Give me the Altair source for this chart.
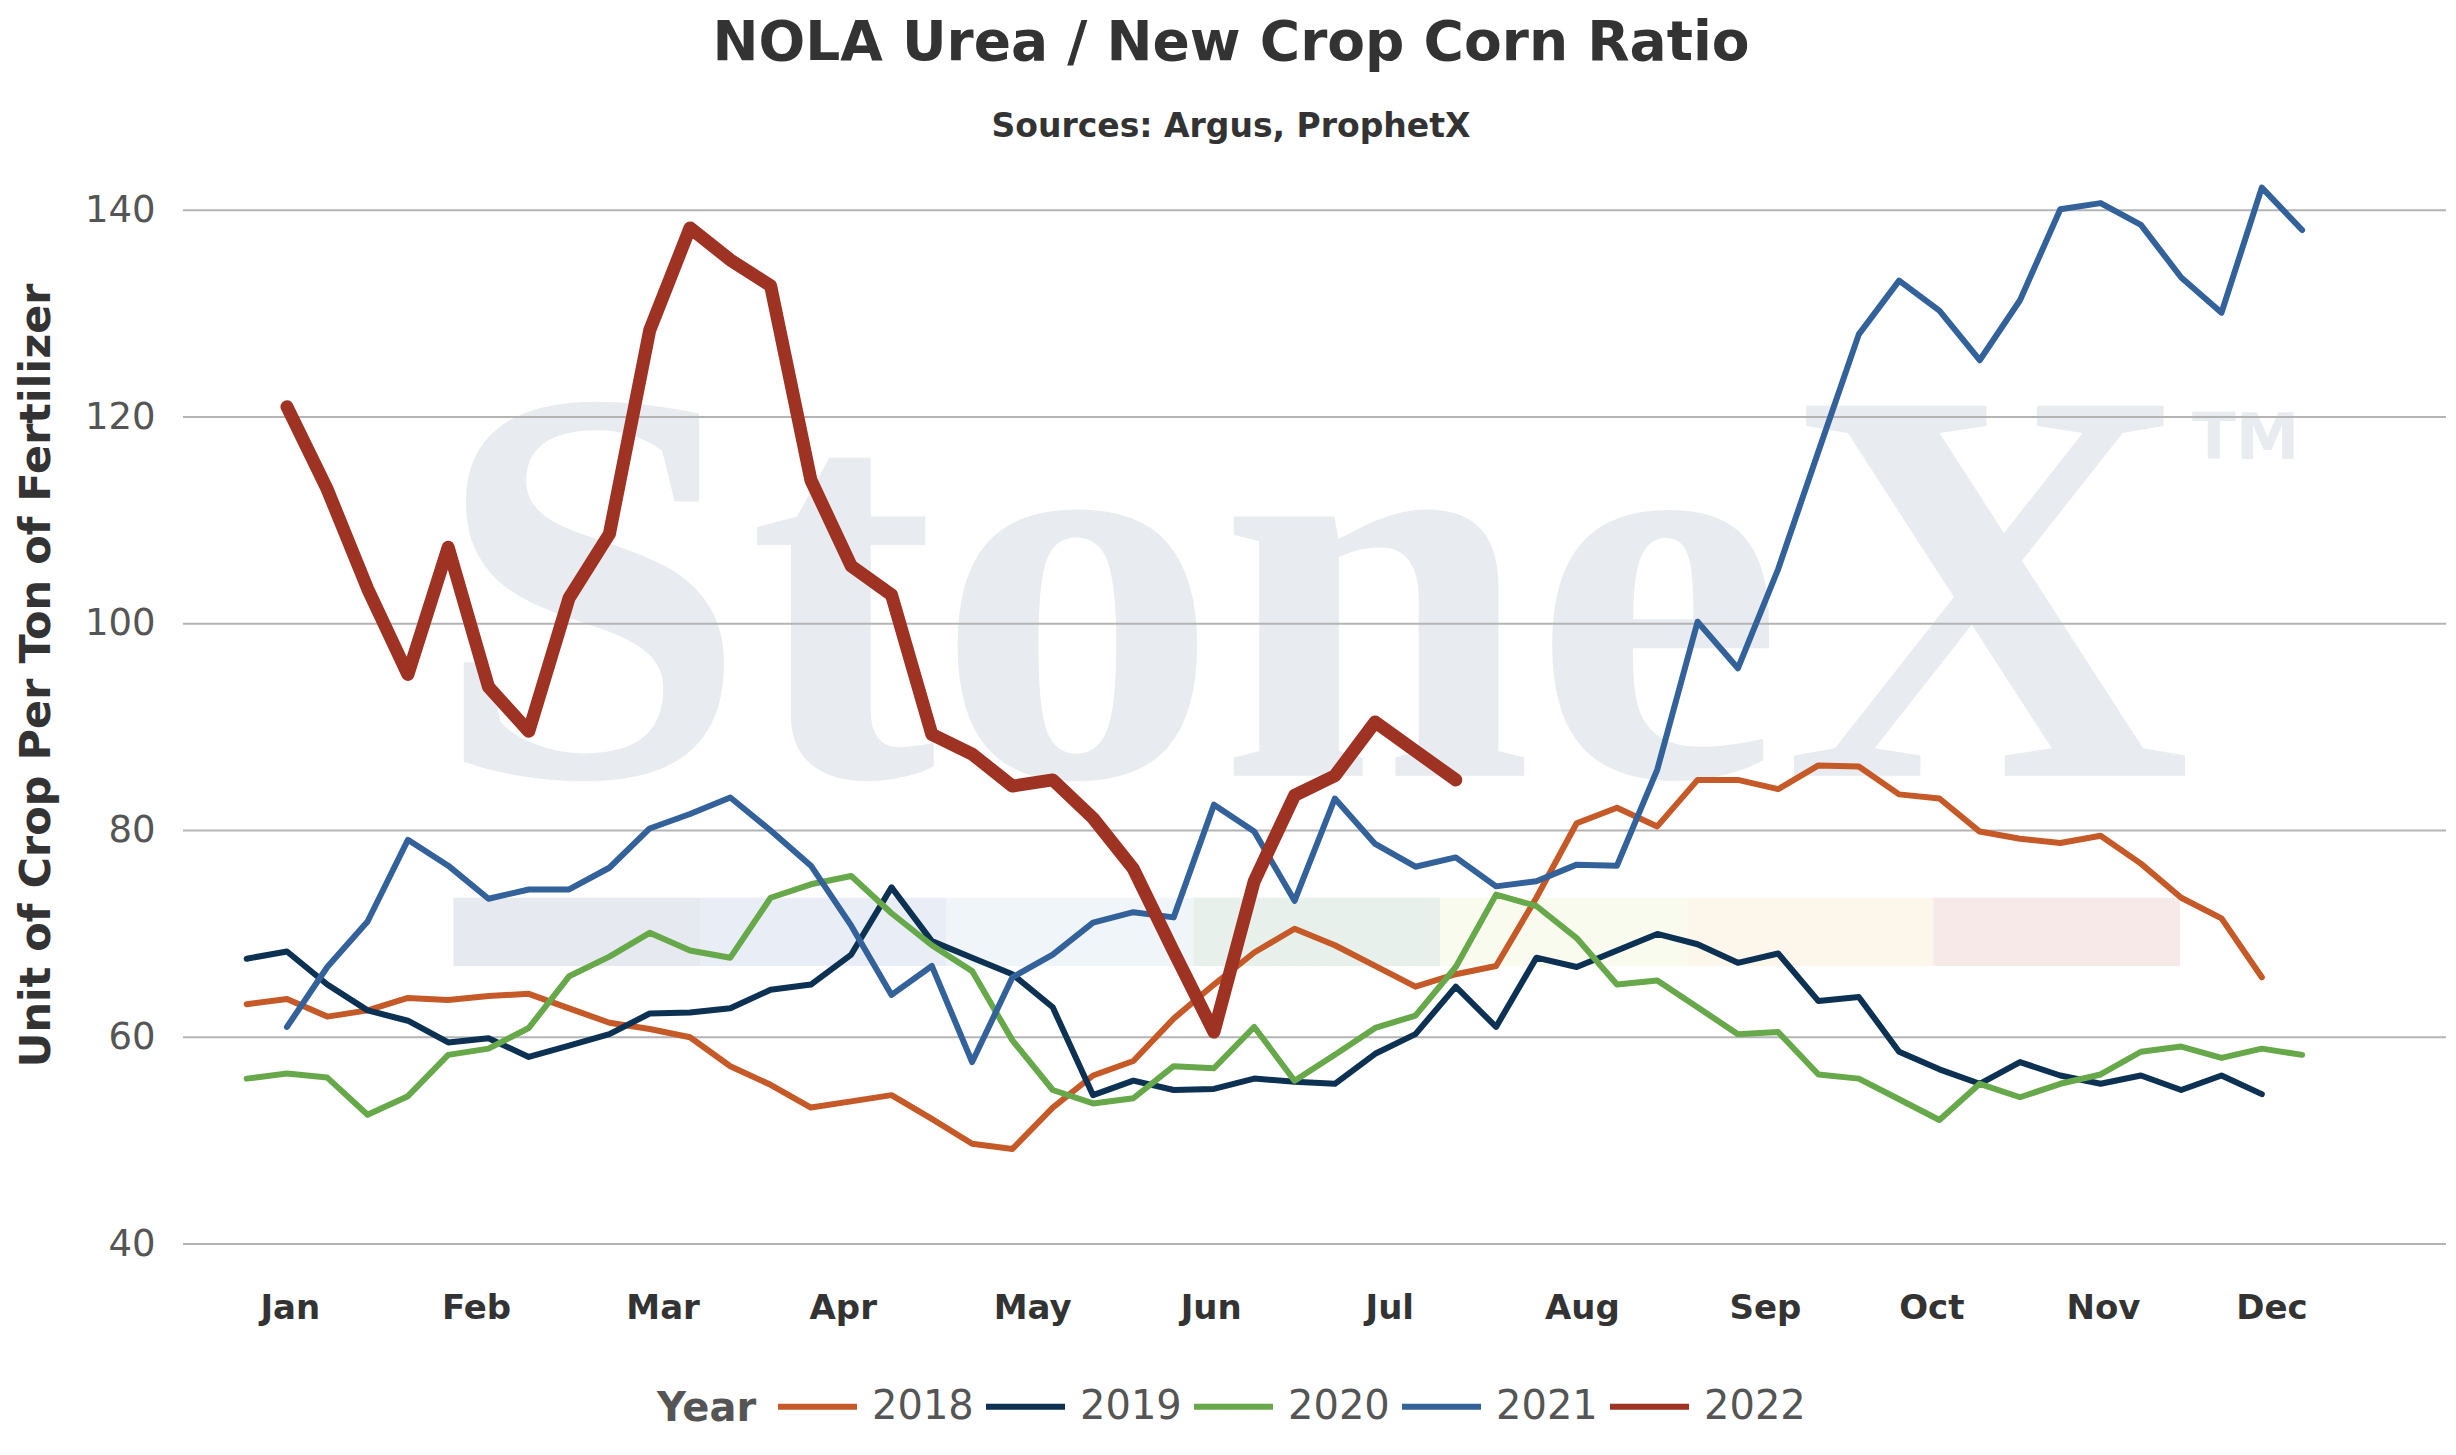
import altair as alt
import pandas as pd

# weekly NOLA urea / new-crop corn ratio, one list per year
years = ["2018", "2019", "2020", "2021", "2022"]
colors = ["#c55a28", "#0c3152", "#67a84a", "#33619a", "#9e3223"]
first_week = {"2018": 0, "2019": 0, "2020": 0, "2021": 1, "2022": 1}

ratio_2018 = [63.2, 63.7, 62.0, 62.6, 63.8, 63.6, 64.0, 64.2, 62.8, 61.4,
              60.8, 60.0, 57.2, 55.4, 53.2, 53.8, 54.4, 52.1, 49.7, 49.2,
              53.2, 56.3, 57.7, 61.8, 65.1, 68.2, 70.5, 68.9, 66.9, 64.9,
              66.1, 66.9, 73.5, 80.7, 82.2, 80.4, 84.9, 84.9, 84.0, 86.3,
              86.2, 83.5, 83.1, 79.9, 79.2, 78.8, 79.5, 76.8, 73.5, 71.5,
              65.8]
ratio_2019 = [67.6, 68.3, 65.1, 62.6, 61.6, 59.5, 59.9, 58.1, 59.2, 60.3,
              62.3, 62.4, 62.8, 64.6, 65.1, 68.0, 74.5, 69.3, 67.7, 66.1,
              62.9, 54.4, 55.8, 54.9, 55.0, 56.0, 55.7, 55.5, 58.4, 60.3,
              64.9, 61.0, 67.7, 66.8, 68.4, 70.0, 69.0, 67.2, 68.1, 63.5,
              63.9, 58.6, 56.9, 55.5, 57.6, 56.3, 55.5, 56.3, 54.9, 56.3,
              54.5]
ratio_2020 = [56.0, 56.5, 56.1, 52.5, 54.3, 58.3, 58.9, 60.9, 65.9, 67.8,
              70.1, 68.4, 67.7, 73.5, 74.8, 75.6, 72.0, 68.9, 66.4, 59.7,
              54.9, 53.6, 54.1, 57.2, 57.0, 61.0, 55.8, 58.3, 60.9, 62.1,
              66.8, 73.8, 72.7, 69.6, 65.1, 65.5, 62.9, 60.3, 60.5, 56.4,
              56.0, 54.0, 52.0, 55.5, 54.2, 55.5, 56.4, 58.6, 59.1, 58.0,
              58.9, 58.3]
ratio_2021 = [61.0, 66.8, 71.2, 79.1, 76.6, 73.4, 74.3, 74.3, 76.4, 80.2,
              81.6, 83.2, 80.0, 76.6, 70.8, 64.1, 66.9, 57.6, 65.8, 68.0,
              71.1, 72.1, 71.6, 82.5, 79.9, 73.2, 83.1, 78.7, 76.5, 77.4,
              74.6, 75.1, 76.7, 76.6, 85.9, 100.2, 95.7, 105.3, 116.7, 128.0,
              133.2, 130.3, 125.5, 131.3, 140.1, 140.7, 138.6, 133.5, 130.1, 142.2,
              138.1]
ratio_2022 = [121.0, 113.0, 103.4, 95.1, 107.4, 93.9, 89.6, 102.5, 108.7, 128.4,
              138.3, 135.2, 132.7, 113.9, 105.6, 102.8, 89.3, 87.4, 84.3, 84.9,
              81.2, 76.3, 68.3, 60.5, 75.1, 83.4, 85.3, 90.5, 87.7, 84.9]

months = ["Jan", "Feb", "Mar", "Apr", "May", "Jun",
          "Jul", "Aug", "Sep", "Oct", "Nov", "Dec"]
month_week = [1.07, 5.69, 10.32, 14.79, 19.49, 23.92,
              28.35, 33.13, 37.67, 41.8, 46.06, 50.24]
y_ticks = [40, 60, 80, 100, 120, 140]

series = dict(zip(years, [ratio_2018, ratio_2019, ratio_2020, ratio_2021, ratio_2022]))
rows = []
for yr, vals in series.items():
    for k, v in enumerate(vals):
        rows.append({"year": yr, "week": first_week[yr] + k, "ratio": v})
df = pd.DataFrame(rows)

# month labels on the week axis
label_expr = ""
for k in range(len(months) - 1):
    cut = (month_week[k] + month_week[k + 1]) / 2
    label_expr += f"datum.value < {cut:.2f} ? '{months[k]}' : "
label_expr += f"'{months[-1]}'"

FONT = "DejaVu Sans"
x_scale = alt.Scale(domain=[-1.58, 54.57], nice=False, zero=False)
y_scale = alt.Scale(domain=[40, 144], nice=False, zero=False)
x_axis = alt.Axis(values=month_week, labelExpr=label_expr, title=None, grid=False,
                  ticks=False, domain=False, labelFont=FONT, labelFontSize=34,
                  labelFontWeight="bold", labelColor="#333333", labelBaseline="middle",
                  labelPadding=64, labelFlush=False)
y_axis = alt.Axis(values=y_ticks, grid=False, ticks=False, domain=False,
                  labelFont=FONT, labelFontSize=37, labelColor="#555555", labelPadding=28,
                  title="Unit of Crop Per Ton of Fertilizer", titleFont=FONT,
                  titleFontSize=43, titleFontWeight="bold", titleColor="#333333",
                  titleAngle=270, titleAlign="center", titleBaseline="middle",
                  titleX=-147, titleY=506)


def x_enc():
    return alt.X("week:Q", scale=x_scale, axis=x_axis)


def y_enc():
    return alt.Y("ratio:Q", scale=y_scale, axis=y_axis)


# StoneX watermark behind the plot
band_colors = ["#e6e9ef", "#e9edf5", "#f0f5fa", "#e7f0ea", "#fafbef", "#fdf6ea", "#f8e9e9"]
band = pd.DataFrame({
    "week": [5.13 + 6.12 * k for k in range(7)],
    "week2": [5.13 + 6.12 * (k + 1) for k in range(7)],
    "ratio": [66.9] * 7,
    "ratio2": [73.5] * 7,
    "fillc": band_colors,
})
band_layer = alt.Chart(band).mark_rect().encode(
    x=x_enc(), x2="week2:Q", y=y_enc(), y2="ratio2:Q",
    fill=alt.Fill("fillc:N", scale=None),
)
mark_df = pd.DataFrame({"week": [26.45, 49.6], "ratio": [85.3, 117.8], "txt": ["StoneX", "TM"]})
logo = alt.Chart(mark_df[mark_df.txt == "StoneX"]).mark_text(
    font="Liberation Serif", fontSize=565, fontWeight="bold", color="#e8ebf0",
    baseline="alphabetic", align="center"
).encode(x=x_enc(), y=y_enc(), text="txt:N")
tm = alt.Chart(mark_df[mark_df.txt == "TM"]).mark_text(
    font=FONT, fontSize=64, fontWeight="bold", color="#e8ebf0", baseline="middle", align="center"
).encode(x=x_enc(), y=y_enc(), text="txt:N")

grid = alt.Chart(pd.DataFrame({"ratio": y_ticks})).mark_rule(
    color="#b4b4b4", strokeWidth=2
).encode(y=y_enc())

legend = alt.Legend(title="Year", orient="none", legendX=474, legendY=1195,
                    direction="horizontal", titleOrient="left",
                    titleBaseline="line-top", titleLineHeight=29,
                    symbolType="stroke", symbolSize=6241, symbolStrokeWidth=6,
                    labelFont=FONT, labelFontSize=40, labelColor="#555555",
                    titleFont=FONT, titleFontSize=40, titleFontWeight="bold",
                    titleColor="#555555", titlePadding=18, labelOffset=12, columnPadding=0)
color = alt.Color("year:N", scale=alt.Scale(domain=years, range=colors), legend=legend)

thin = alt.Chart(df[df.year != "2022"]).mark_line(
    strokeWidth=6, strokeCap="round", strokeJoin="round"
).encode(x=x_enc(), y=y_enc(), color=color, detail="year:N")
thick = alt.Chart(df[df.year == "2022"]).mark_line(
    strokeWidth=13, strokeCap="round", strokeJoin="round"
).encode(x=x_enc(), y=y_enc(), color=color)

chart = alt.layer(band_layer, logo, tm, grid, thin, thick).properties(
    width=2263,
    height=1075,
    background="white",
    padding={"left": 175, "top": 161, "right": 2, "bottom": 203},
    autosize=alt.AutoSizeParams(type="none"),
    title=alt.TitleParams(
        "NOLA Urea / New Crop Corn Ratio",
        subtitle="Sources: Argus, ProphetX",
        font=FONT, fontSize=55, fontWeight="bold", color="#333333",
        subtitleFont=FONT, subtitleFontSize=33, subtitleFontWeight="bold",
        subtitleColor="#333333", subtitlePadding=39, anchor="middle",
        frame="bounds", offset=24,
    ),
).configure_view(strokeWidth=0)

chart.save("out.html", embed_options={"renderer": "svg", "actions": False})
